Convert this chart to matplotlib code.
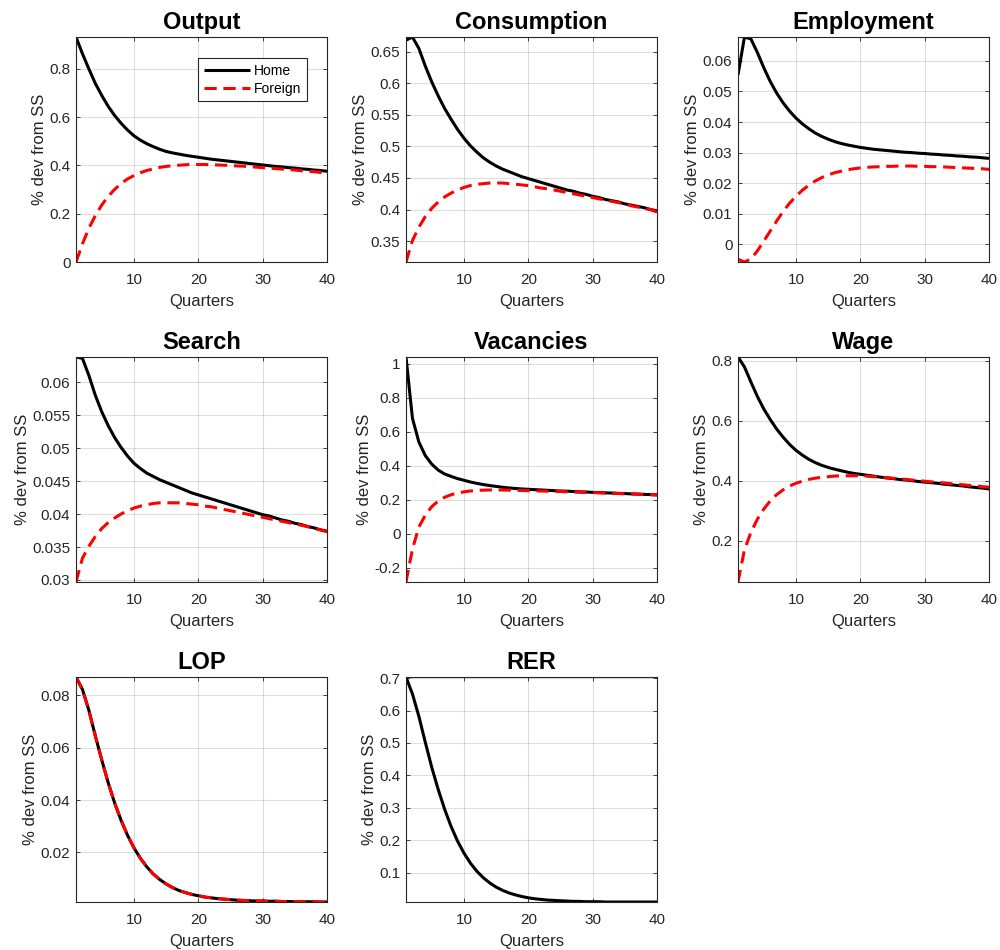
import matplotlib
matplotlib.use("Agg")
import matplotlib.pyplot as plt
from matplotlib.ticker import FuncFormatter

plt.rcParams['font.family'] = ['Liberation Sans', 'DejaVu Sans']

quarters = list(range(1, 41))

output_home = [0.932, 0.863, 0.800, 0.740, 0.690, 0.645, 0.607, 0.575, 0.547, 0.523,
               0.505, 0.490, 0.478, 0.467, 0.458, 0.452, 0.447, 0.442, 0.438, 0.434,
               0.430, 0.426, 0.423, 0.420, 0.417, 0.414, 0.411, 0.408, 0.405, 0.402,
               0.399, 0.396, 0.394, 0.391, 0.389, 0.386, 0.384, 0.381, 0.379, 0.376]
output_foreign = [0.000, 0.075, 0.140, 0.192, 0.236, 0.272, 0.301, 0.325, 0.344, 0.358,
                  0.370, 0.379, 0.386, 0.392, 0.396, 0.399, 0.401, 0.403, 0.404, 0.404,
                  0.404, 0.403, 0.402, 0.401, 0.400, 0.398, 0.397, 0.395, 0.393, 0.391,
                  0.389, 0.387, 0.385, 0.383, 0.381, 0.378, 0.376, 0.374, 0.371, 0.369]

cons_home = [0.668, 0.673, 0.655, 0.627, 0.602, 0.580, 0.560, 0.543, 0.527, 0.513,
             0.501, 0.491, 0.482, 0.475, 0.469, 0.464, 0.460, 0.456, 0.452, 0.449,
             0.446, 0.443, 0.440, 0.437, 0.434, 0.431, 0.429, 0.426, 0.424, 0.421,
             0.419, 0.416, 0.414, 0.412, 0.409, 0.407, 0.405, 0.403, 0.400, 0.398]
cons_foreign = [0.317, 0.351, 0.372, 0.389, 0.402, 0.412, 0.420, 0.426, 0.431, 0.435,
                0.438, 0.440, 0.441, 0.442, 0.442, 0.442, 0.441, 0.440, 0.439, 0.438,
                0.436, 0.434, 0.433, 0.431, 0.429, 0.427, 0.425, 0.423, 0.421, 0.419,
                0.417, 0.415, 0.413, 0.411, 0.409, 0.406, 0.404, 0.402, 0.400, 0.396]

emp_home = [0.0554, 0.0678, 0.0672, 0.0628, 0.0578, 0.0533, 0.0495, 0.0463, 0.0436, 0.0413,
            0.0394, 0.0378, 0.0364, 0.0353, 0.0344, 0.0336, 0.0330, 0.0325, 0.0321, 0.0317,
            0.0314, 0.0311, 0.0309, 0.0307, 0.0305, 0.0303, 0.0301, 0.0300, 0.0298, 0.0297,
            0.0295, 0.0294, 0.0292, 0.0291, 0.0289, 0.0288, 0.0286, 0.0285, 0.0283, 0.0281]
emp_foreign = [-0.0049, -0.0058, -0.0048, -0.0022, 0.0010, 0.0043, 0.0076, 0.0107, 0.0134, 0.0157,
               0.0177, 0.0193, 0.0207, 0.0218, 0.0227, 0.0234, 0.0239, 0.0244, 0.0247, 0.0250,
               0.0252, 0.0253, 0.0254, 0.0255, 0.0255, 0.0256, 0.0256, 0.0256, 0.0255, 0.0255,
               0.0254, 0.0254, 0.0253, 0.0252, 0.0251, 0.0250, 0.0249, 0.0248, 0.0247, 0.0245]

search_home = [0.0638, 0.0636, 0.0610, 0.0580, 0.0555, 0.0534, 0.0516, 0.0501, 0.0488, 0.0477,
               0.0469, 0.0462, 0.0457, 0.0452, 0.0448, 0.0444, 0.0440, 0.0436, 0.0432, 0.0429,
               0.0426, 0.0423, 0.0420, 0.0417, 0.0414, 0.0411, 0.0408, 0.0405, 0.0402, 0.0399,
               0.0397, 0.0394, 0.0391, 0.0389, 0.0386, 0.0384, 0.0381, 0.0379, 0.0376, 0.0374]
search_foreign = [0.0297, 0.0333, 0.0351, 0.0366, 0.0378, 0.0387, 0.0394, 0.0400, 0.0405, 0.0409,
                  0.0412, 0.0414, 0.0416, 0.0417, 0.0417, 0.0417, 0.0417, 0.0416, 0.0415, 0.0414,
                  0.0412, 0.0411, 0.0409, 0.0407, 0.0405, 0.0403, 0.0401, 0.0399, 0.0397, 0.0395,
                  0.0393, 0.0391, 0.0389, 0.0387, 0.0385, 0.0383, 0.0381, 0.0378, 0.0376, 0.0373]

vac_home = [1.040, 0.680, 0.540, 0.460, 0.410, 0.375, 0.352, 0.338, 0.325, 0.315,
            0.305, 0.297, 0.290, 0.284, 0.279, 0.274, 0.270, 0.267, 0.264, 0.262,
            0.260, 0.258, 0.256, 0.254, 0.252, 0.251, 0.249, 0.247, 0.246, 0.244,
            0.243, 0.241, 0.240, 0.238, 0.237, 0.235, 0.234, 0.232, 0.231, 0.229]
vac_foreign = [-0.283, -0.090, 0.040, 0.110, 0.160, 0.193, 0.215, 0.230, 0.240, 0.247,
               0.252, 0.255, 0.257, 0.258, 0.258, 0.258, 0.257, 0.256, 0.255, 0.254,
               0.253, 0.252, 0.251, 0.250, 0.249, 0.248, 0.246, 0.245, 0.244, 0.243,
               0.241, 0.240, 0.239, 0.237, 0.236, 0.235, 0.233, 0.232, 0.230, 0.229]

wage_home = [0.813, 0.780, 0.730, 0.682, 0.640, 0.605, 0.573, 0.546, 0.522, 0.502,
             0.486, 0.472, 0.461, 0.452, 0.445, 0.439, 0.434, 0.429, 0.425, 0.422,
             0.419, 0.416, 0.413, 0.410, 0.408, 0.405, 0.403, 0.401, 0.398, 0.396,
             0.394, 0.392, 0.389, 0.387, 0.385, 0.383, 0.380, 0.378, 0.376, 0.373]
wage_foreign = [0.063, 0.170, 0.228, 0.272, 0.306, 0.333, 0.354, 0.370, 0.383, 0.392,
                0.399, 0.405, 0.409, 0.412, 0.414, 0.416, 0.417, 0.417, 0.417, 0.417,
                0.416, 0.414, 0.413, 0.411, 0.409, 0.407, 0.405, 0.403, 0.401, 0.399,
                0.397, 0.395, 0.393, 0.391, 0.389, 0.387, 0.385, 0.383, 0.381, 0.379]

lop_home = [0.0869, 0.0822, 0.0742, 0.0645, 0.0553, 0.0466, 0.0389, 0.0323, 0.0266, 0.0218,
            0.0178, 0.0145, 0.0118, 0.0097, 0.0080, 0.0066, 0.0055, 0.0047, 0.0040, 0.0035,
            0.0030, 0.0027, 0.0024, 0.0022, 0.0020, 0.0018, 0.0017, 0.0016, 0.0015, 0.0015,
            0.0014, 0.0014, 0.0013, 0.0013, 0.0012, 0.0012, 0.0012, 0.0012, 0.0011, 0.0011]
lop_foreign = list(lop_home)

rer_home = [0.703, 0.651, 0.582, 0.502, 0.425, 0.357, 0.296, 0.243, 0.198, 0.161,
            0.130, 0.105, 0.085, 0.069, 0.056, 0.046, 0.038, 0.032, 0.027, 0.023,
            0.020, 0.018, 0.016, 0.015, 0.014, 0.013, 0.012, 0.012, 0.011, 0.011,
            0.011, 0.010, 0.010, 0.010, 0.010, 0.010, 0.010, 0.010, 0.010, 0.010]

titles = ["Output", "Consumption", "Employment", "Search", "Vacancies", "Wage", "LOP", "RER"]
home_series = [output_home, cons_home, emp_home, search_home, vac_home, wage_home, lop_home, rer_home]
foreign_series = [output_foreign, cons_foreign, emp_foreign, search_foreign, vac_foreign,
                  wage_foreign, lop_foreign, None]
yticks_list = [
    [0, 0.2, 0.4, 0.6, 0.8],
    [0.35, 0.4, 0.45, 0.5, 0.55, 0.6, 0.65],
    [0, 0.01, 0.02, 0.03, 0.04, 0.05, 0.06],
    [0.03, 0.035, 0.04, 0.045, 0.05, 0.055, 0.06],
    [-0.2, 0, 0.2, 0.4, 0.6, 0.8, 1],
    [0.2, 0.4, 0.6, 0.8],
    [0.02, 0.04, 0.06, 0.08],
    [0.1, 0.2, 0.3, 0.4, 0.5, 0.6, 0.7],
]
xticks = [10, 20, 30, 40]

fig = plt.figure(figsize=(10, 9.5), dpi=100)
col_left = [0.076, 0.406, 0.738]
row_bottom = [0.7242, 0.3874, 0.0505]
w, h = 0.251, 0.2368

axcol = '#262626'
for i, title in enumerate(titles):
    r, c = divmod(i, 3)
    ax = fig.add_axes([col_left[c], row_bottom[r], w, h])
    hs = home_series[i]
    fs = foreign_series[i]
    ax.plot(quarters, hs, color='black', lw=2.2, solid_capstyle='butt', label='Home')
    allv = list(hs)
    if fs is not None:
        ax.plot(quarters, fs, color='red', lw=2.2, ls=(0, (4, 2.2)), label='Foreign')
        allv += list(fs)
    ax.set_xlim(1, 40)
    ax.set_ylim(min(allv), max(allv))
    ax.set_xticks(xticks)
    ax.set_yticks(yticks_list[i])
    ax.yaxis.set_major_formatter(FuncFormatter(lambda v, p: ('%g' % round(v, 6))))
    ax.grid(True, color=axcol, alpha=0.15, lw=0.8)
    ax.set_axisbelow(True)
    ax.tick_params(direction='in', length=3, width=0.6, colors=axcol, labelsize=11,
                   top=True, right=True, labeltop=False, labelright=False)
    ax.tick_params(axis='y', pad=4)
    ax.tick_params(axis='x', pad=8)
    for s in ax.spines.values():
        s.set_color(axcol)
        s.set_linewidth(0.8)
    ax.set_title(title, fontsize=17, fontweight='bold', pad=6)
    ax.set_xlabel('Quarters', fontsize=12, color=axcol, labelpad=5)
    ax.set_ylabel('% dev from SS', fontsize=12, color=axcol, labelpad=2)
    if i == 0:
        leg = ax.legend(loc='upper right', bbox_to_anchor=(0.92, 0.906), fontsize=10,
                        frameon=True, fancybox=False, handlelength=3.3, handletextpad=0.3,
                        borderpad=0.4, labelspacing=0.3, borderaxespad=0)
        leg.get_frame().set_edgecolor(axcol)
        leg.get_frame().set_linewidth(0.8)
        leg.get_frame().set_alpha(1)

fig.savefig('out.png', dpi=100)
